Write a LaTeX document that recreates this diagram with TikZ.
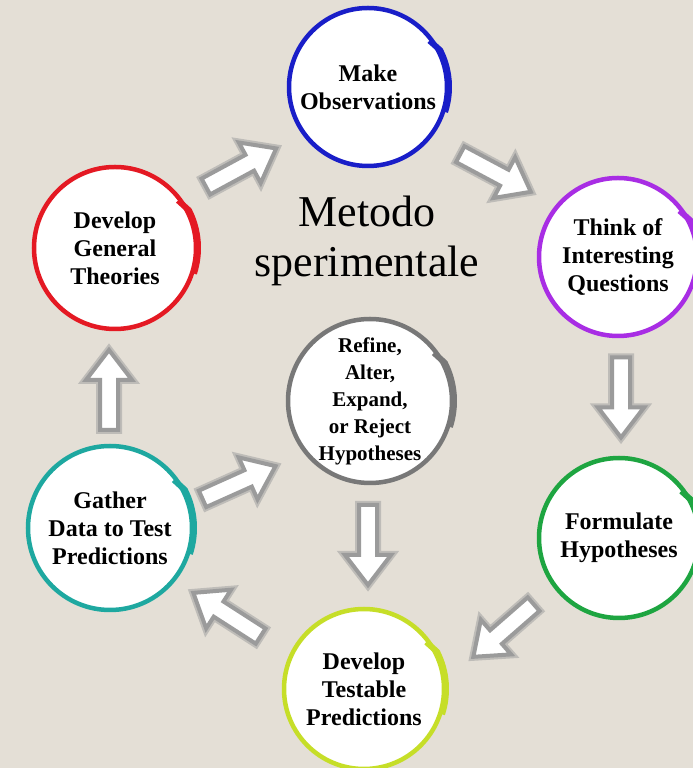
\documentclass[tikz,border=0pt]{standalone}
\usepackage{fontspec}
\setmainfont{Liberation Serif}
\usetikzlibrary{calc}

\definecolor{bg}{RGB}{228,223,214}
\definecolor{ringblue}{RGB}{25,30,200}
\definecolor{ringred}{RGB}{228,25,35}
\definecolor{ringpurple}{RGB}{168,45,228}
\definecolor{ringgreen}{RGB}{30,165,65}
\definecolor{ringlime}{RGB}{198,222,40}
\definecolor{ringteal}{RGB}{30,168,160}
\definecolor{ringgray}{RGB}{120,120,120}
\definecolor{arrowedge}{RGB}{155,155,155}
\definecolor{arrowhalo}{RGB}{190,188,184}

\tikzset{
  stage/.style={circle, fill=white, line width=4.5pt, outer sep=0pt, inner sep=0pt,
    align=center, font=\bfseries\fontsize{24}{28}\selectfont},
  tailstroke/.style={line width=6pt, line join=round},
  title/.style={align=center, font=\fontsize{44}{50}\selectfont},
  barrow/.pic={
    \draw[arrowhalo, line width=8pt, line join=miter, fill=white]
      (-40,-9) -- (10,-9) -- (10,-23) -- (40,0) -- (10,23) -- (10,9) -- (-40,9) -- cycle;
    \draw[arrowedge, line width=4pt, line join=miter, fill=white]
      (-40,-9) -- (10,-9) -- (10,-23) -- (40,0) -- (10,23) -- (10,9) -- (-40,9) -- cycle;
  }
}

% brush-like thicker stroke on the upper right of each ring
\newcommand{\ringtail}[3]{%
  \draw[tailstroke, draw=#2]
    ([shift={(37:#3-2)}]#1.center) -- ([shift={(27:#3+2)}]#1.center)
    arc[start angle=27, end angle=-18, radius=#3+2];
}

\begin{document}
\begin{tikzpicture}[x=1pt, y=1pt]
  \useasboundingbox (0,0) rectangle (693,768);
  \clip (0,0) rectangle (693,768);
  \fill[bg] (0,0) rectangle (693,768);

  % stages of the cycle
  \node[stage, draw=ringblue,   minimum size=158pt] (obs)    at (368,681) {Make\\Observations};
  \node[stage, draw=ringpurple, minimum size=158pt] (ques)   at (618,511) {Think of\\Interesting\\Questions};
  \node[stage, draw=ringgreen,  minimum size=160pt] (hyp)    at (619,230) {Formulate\\Hypotheses};
  \node[stage, draw=ringlime,   minimum size=160pt] (pred)   at (364,79)  {Develop\\Testable\\Predictions};
  \node[stage, draw=ringteal,   minimum size=164pt] (gather) at (110,240) {Gather\\Data to Test\\Predictions};
  \node[stage, draw=ringred,    minimum size=162pt] (theory) at (115,520) {Develop\\General\\Theories};
  \node[stage, draw=ringgray,   minimum size=164pt,
        font=\bfseries\fontsize{21}{27}\selectfont] (refine) at (370,367)
        {Refine,\\Alter,\\Expand,\\or Reject\\Hypotheses};

  \ringtail{obs}{ringblue}{79}
  \ringtail{ques}{ringpurple}{79}
  \ringtail{hyp}{ringgreen}{80}
  \ringtail{pred}{ringlime}{80}
  \ringtail{gather}{ringteal}{82}
  \ringtail{theory}{ringred}{81}
  \ringtail{refine}{ringgray}{82}

  % title
  \node[title] (ttl) at (367,527) {Metodo\\sperimentale};

  % block arrows between the stages
  \coordinate (t1) at (205,581); \coordinate (h1) at (277,620);
  \coordinate (t2) at (458,615); \coordinate (h2) at (533,575);
  \coordinate (t3) at (621,413); \coordinate (h3) at (621,328);
  \coordinate (t4) at (535,165); \coordinate (h4) at (472,110);
  \coordinate (t5) at (262,131); \coordinate (h5) at (192,176);
  \coordinate (t6) at (109,338); \coordinate (h6) at (109,418);
  \coordinate (t7) at (200,268); \coordinate (h7) at (278,303);
  \coordinate (t8) at (368,263); \coordinate (h8) at (368,183);

  \foreach \i in {1,...,8}{
    \path (t\i) -- (h\i) pic[midway, sloped, allow upside down] {barrow};
  }
\end{tikzpicture}
\end{document}
